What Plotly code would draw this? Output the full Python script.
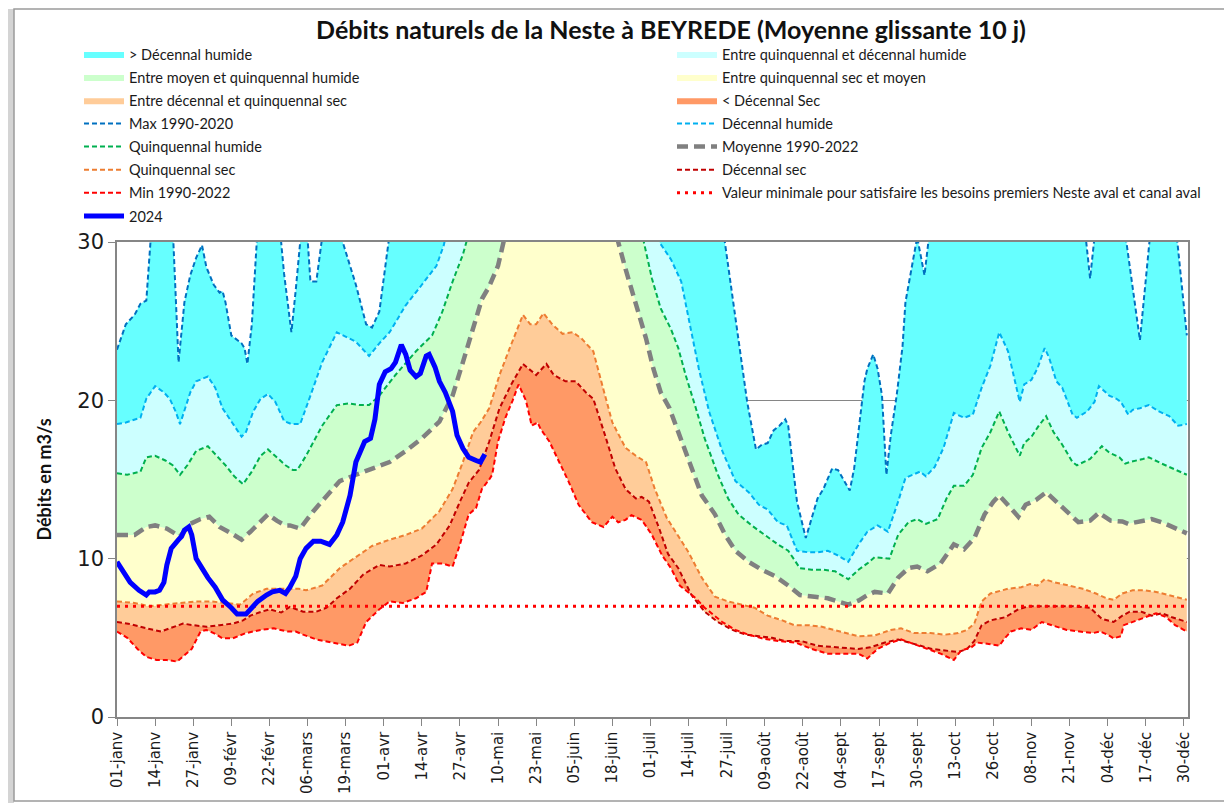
import plotly.graph_objects as go

# ---------------- data (day of year, leap year: 0 = 01-janv) ----------------
tick_days = [0, 13, 26, 39, 52, 65, 78, 91, 104, 117, 130, 143, 156, 169, 182,
             195, 208, 221, 234, 247, 260, 273, 286, 299, 312, 325, 338, 351, 364]
tick_labels = ["01-janv", "14-janv", "27-janv", "09-févr", "22-févr", "06-mars",
               "19-mars", "01-avr", "14-avr", "27-avr", "10-mai", "23-mai",
               "05-juin", "18-juin", "01-juil", "14-juil", "27-juil", "09-août",
               "22-août", "04-sept", "17-sept", "30-sept", "13-oct", "26-oct",
               "08-nov", "21-nov", "04-déc", "17-déc", "30-déc"]

max_days = [0, 3, 6, 8, 10, 12, 15, 19, 21, 23, 25, 27, 29, 30.5, 33, 35, 36, 37,
            39, 41, 42.5, 43.5, 44.5, 46, 48, 52, 55.5, 57, 59.5, 61, 62.5, 64, 66,
            68, 70.5, 74, 77, 81.5, 85, 87, 89.5, 93, 100, 150, 200, 207, 211, 215,
            218, 220, 222, 224, 226, 228, 229, 232, 235, 239, 241, 244, 246, 248,
            250, 251.5, 254, 255, 256, 258, 259.5, 261, 262.5, 264, 266, 268, 269,
            271, 273, 275.5, 277, 285, 290, 310, 328, 330.5, 332, 333.5, 340, 344,
            349, 352.5, 356, 361.5, 365]
max_vals = [23.2, 24.8, 25.4, 26.1, 26.3, 31.5, 34.0, 31.0, 22.4, 26.2, 27.9, 29.0,
            29.8, 28.4, 27.3, 26.8, 26.9, 26.2, 24.1, 23.8, 23.6, 23.3, 22.3, 24.8,
            31.0, 34.0, 31.0, 28.0, 24.3, 27.0, 30.5, 33.0, 27.5, 27.5, 31.0, 33.0,
            30.0, 27.3, 24.8, 24.6, 25.6, 30.5, 36.0, 40.0, 36.0, 30.5, 25.2, 19.9,
            16.9, 17.2, 17.3, 18.1, 18.4, 18.8, 18.4, 13.6, 11.3, 13.8, 14.4, 15.7,
            15.6, 14.9, 14.3, 15.7, 19.5, 21.2, 22.0, 22.9, 22.0, 20.3, 15.3, 17.8,
            20.3, 23.4, 26.2, 28.3, 30.3, 27.9, 30.3, 35.0, 36.0, 35.0, 31.0, 30.3,
            27.7, 30.3, 34.0, 30.5, 23.8, 30.5, 34.0, 30.5, 24.1]

dh_days = [0, 3, 8, 10, 13, 16, 18, 20, 21.5, 22.5, 25, 27, 31, 33.5, 36, 40, 42.5,
           44, 46.5, 49, 51.5, 54, 57, 59.5, 62.5, 66, 70, 75, 81.5, 86, 89.5, 93,
           98.5, 104, 109, 111.5, 114, 130, 170, 183, 185, 189, 192.5, 195, 198.5,
           202, 206.5, 211, 215.5, 219, 222, 225.5, 228.5, 232, 236, 239, 242.5,
           246, 249.5, 253, 256, 259.5, 263, 266.5, 269, 274, 276, 279, 282, 285.5,
           289, 292, 295, 298, 301, 304, 308, 309.5, 312, 314, 316.5, 318, 320.5,
           322.5, 326, 327.5, 331, 333.5, 335, 338.5, 341, 342.5, 345, 346.5, 349,
           352, 355.5, 359, 362, 365]
dh_vals = [18.5, 18.6, 18.9, 20.1, 20.9, 20.5, 20.1, 19.3, 18.5, 19.1, 20.5, 21.2,
           21.5, 20.8, 19.5, 18.4, 17.7, 18.0, 19.3, 20.1, 20.4, 19.9, 18.7, 18.5,
           18.5, 20.3, 22.4, 24.3, 23.7, 22.8, 23.6, 24.3, 26.0, 27.3, 28.5, 29.8,
           32.0, 40.0, 40.0, 32.0, 30.0, 28.9, 27.5, 25.2, 22.0, 19.3, 16.8, 14.9,
           14.2, 13.4, 13.1, 12.3, 12.1, 10.5, 10.4, 10.4, 10.5, 10.2, 9.8, 10.9,
           11.7, 12.1, 11.7, 13.6, 15.1, 15.5, 15.2, 15.8, 17.0, 19.2, 18.9, 19.1,
           20.8, 22.2, 24.3, 23.1, 19.9, 21.0, 21.3, 22.0, 23.3, 22.7, 21.2, 20.8,
           19.1, 18.9, 19.3, 19.9, 20.9, 20.3, 20.1, 19.9, 19.1, 19.4, 19.5, 19.7,
           19.3, 19.0, 18.4, 18.5]

qh_days = [0, 3.5, 8, 10, 13, 16.5, 19, 21.5, 24, 27, 31, 34, 37, 40, 43, 46, 49,
           51.5, 54.5, 57.5, 60, 61.5, 64.5, 70, 75, 79, 83, 86, 89.5, 95, 102,
           107.5, 111, 114.5, 118, 119.5, 125, 170, 179.5, 182.5, 185.5, 189, 191.5,
           194, 197.5, 200.5, 205, 208.5, 212, 216.5, 221, 225.5, 229, 233, 237, 241,
           245, 249.5, 253, 256, 258.5, 263.5, 266.5, 270, 273, 276, 280, 283, 285.5,
           289, 292, 295, 298, 301, 304, 308, 309.5, 312, 314.5, 317, 319.5, 322.5,
           326, 327.5, 332, 334, 336, 338.5, 342, 344, 345.5, 350, 352, 356.5, 360,
           365]
qh_vals = [15.4, 15.3, 15.5, 16.4, 16.5, 16.2, 15.9, 15.3, 15.9, 16.8, 17.1, 16.5,
           15.9, 15.2, 14.7, 15.5, 16.5, 16.9, 16.4, 15.9, 15.6, 15.6, 16.5, 18.4,
           19.7, 19.8, 19.7, 19.7, 20.3, 21.6, 23.1, 24.1, 25.6, 27.5, 29.2, 30.2,
           36.0, 36.0, 30.2, 27.7, 25.8, 24.5, 23.3, 21.6, 19.5, 17.6, 15.3, 13.8,
           12.8, 12.1, 11.5, 10.9, 10.5, 9.4, 9.3, 9.3, 9.2, 8.7, 9.3, 9.7, 10.1,
           10.0, 11.5, 12.3, 12.5, 12.2, 12.5, 13.8, 14.6, 14.6, 15.3, 17.0, 18.0,
           19.3, 18.0, 16.5, 17.3, 17.7, 18.4, 19.0, 18.0, 17.2, 16.1, 15.9, 16.3,
           16.7, 17.1, 16.7, 16.4, 16.0, 16.1, 16.3, 16.4, 16.0, 15.7, 15.3]

moy_days = [0, 6, 10, 13, 17, 21.5, 25, 28.5, 31.5, 35, 39, 42.5, 45.5, 49, 51.5,
            54.5, 57.5, 59, 62.5, 67, 71.5, 76, 81.5, 87, 93, 98.5, 104, 110, 114.5,
            118, 121.5, 124.5, 127, 130, 132, 140, 165, 171, 173.5, 177, 180.5, 183,
            185.5, 188.5, 191.5, 195, 199.5, 204, 207.5, 211, 215.5, 220, 224.5, 229,
            233, 238, 242.5, 246, 249.5, 253, 256, 258.5, 263, 266.5, 270, 273, 276.5,
            281, 285.5, 289, 292.5, 296, 299, 301, 304, 307.5, 310, 313.5, 317, 320.5,
            324, 328, 332, 335, 339, 343, 345, 349, 353, 356.5, 360, 365]
moy_vals = [11.5, 11.5, 12.0, 12.1, 11.9, 11.4, 12.2, 12.5, 12.65, 12.0, 11.6, 11.2,
            11.7, 12.4, 12.8, 12.4, 12.1, 12.1, 11.9, 13.0, 14.0, 14.9, 15.3, 15.7,
            16.1, 16.8, 17.6, 18.65, 20.3, 22.4, 24.5, 26.4, 27.2, 28.5, 30.1, 36.0,
            36.0, 30.0, 28.3, 26.2, 23.9, 22.0, 20.5, 19.5, 18.0, 16.1, 14.0, 12.8,
            11.5, 10.5, 9.8, 9.3, 8.9, 8.3, 7.7, 7.6, 7.5, 7.3, 7.1, 7.35, 7.7, 7.9,
            7.8, 8.8, 9.4, 9.5, 9.2, 9.7, 10.9, 10.6, 11.3, 12.8, 13.6, 14.0, 13.4,
            12.65, 13.4, 13.7, 14.2, 13.6, 13.0, 12.3, 12.4, 12.9, 12.4, 12.35, 12.2,
            12.35, 12.5, 12.3, 12.0, 11.6]

qs_days = [0, 6, 11, 17, 23, 27, 32, 37, 42, 44, 46.5, 51, 56, 62, 64.5, 70, 76,
           81.5, 87, 93, 98.5, 104, 110, 114.5, 118, 121.5, 124, 127, 130.5, 134,
           138.5, 141, 143, 145.5, 148.5, 152, 155.5, 158.5, 162.5, 165.5, 169, 173.5,
           177, 180.5, 183.5, 187.5, 191.5, 195, 199.5, 204, 208.5, 213, 217.5, 222,
           227, 231, 236, 240.5, 245, 249.5, 253, 258.5, 264, 267.5, 272, 277.5,
           282.5, 287, 290, 292.5, 295, 298, 304, 308.5, 311.5, 314, 316.5, 320, 325,
           329.5, 334, 337.5, 340, 343, 346.5, 350.5, 354.5, 359, 365]
qs_vals = [7.3, 7.2, 7.0, 7.1, 7.2, 7.3, 7.3, 7.2, 7.1, 7.4, 7.8, 8.1, 8.1, 8.1, 8.0,
           8.3, 9.4, 10.1, 10.8, 11.2, 11.5, 11.9, 13.0, 14.4, 16.1, 18.0, 18.6, 19.5,
           21.6, 23.3, 25.4, 24.8, 24.8, 25.5, 24.8, 24.2, 24.3, 23.9, 23.1, 21.0,
           18.6, 17.0, 16.5, 16.1, 14.4, 12.6, 11.4, 10.4, 8.8, 7.6, 7.3, 7.1, 6.9,
           6.4, 6.1, 5.8, 5.8, 5.7, 5.5, 5.3, 5.1, 5.15, 5.5, 5.6, 5.3, 5.3, 5.2, 5.3,
           5.5, 5.9, 7.3, 7.8, 8.1, 8.2, 8.4, 8.3, 8.7, 8.5, 8.3, 8.1, 7.8, 7.5, 7.4,
           7.8, 8.0, 8.0, 7.9, 7.7, 7.4]

ds_days = [0, 5, 10, 15, 18, 22.5, 26, 30.5, 35, 39.5, 43, 45.5, 48.5, 52, 56, 59,
           63.5, 68, 71.5, 75, 79.5, 84, 89.5, 93, 98.5, 104, 109, 113.5, 117, 120,
           123.5, 127, 130.5, 134.5, 138.5, 140.5, 143, 146.5, 149, 153, 156.5, 160,
           162.5, 166.5, 170, 173.5, 177, 179, 181.5, 185, 188, 191.5, 196, 200.5,
           205, 210, 214.5, 219, 223.5, 228, 233.5, 239, 245, 250.5, 253, 257, 262,
           266.5, 272, 278, 282.5, 287, 290, 292.5, 295, 298, 303, 307.5, 311, 320,
           326, 332, 336, 340, 343, 345.5, 349.5, 353, 356.5, 360, 365]
ds_vals = [6.0, 5.85, 5.6, 5.4, 5.6, 5.9, 5.8, 5.7, 5.8, 5.9, 6.1, 6.4, 6.6, 6.8,
           6.6, 6.95, 6.65, 6.65, 6.9, 7.5, 8.1, 9.0, 9.6, 9.5, 9.7, 10.2, 10.9, 12.1,
           13.6, 14.8, 15.6, 17.4, 19.5, 21.0, 22.3, 22.0, 21.6, 22.3, 21.6, 21.2,
           21.2, 20.5, 20.1, 17.8, 15.7, 14.4, 13.8, 13.9, 13.6, 11.9, 10.3, 9.4, 7.7,
           6.65, 6.0, 5.5, 5.2, 5.1, 5.0, 4.8, 4.8, 4.5, 4.4, 4.3, 4.3, 4.4, 4.7, 4.9,
           4.6, 4.3, 4.2, 4.1, 4.3, 4.8, 5.8, 6.1, 6.3, 6.8, 7.0, 7.0, 7.0, 6.9, 6.2,
           6.0, 6.4, 6.65, 6.65, 6.4, 6.55, 6.3, 6.0]

min_days = [0, 3.5, 7, 10, 13.5, 17, 20.5, 22.5, 25.5, 28.5, 30.5, 33, 36, 39.5, 44,
            49, 53.5, 58, 61, 63.5, 68, 73.5, 79, 82, 85, 89.5, 93, 97.5, 102, 105.5,
            107.5, 111, 114.5, 117, 120, 122.5, 124.5, 127, 128, 130, 132.5, 135, 137,
            139.5, 141.5, 143.5, 144.5, 147.5, 151, 154, 157.5, 162, 166, 169, 171,
            173.5, 175.5, 179, 182.5, 186, 189, 192, 197.5, 200.5, 206.5, 211, 215.5,
            220, 225.5, 231.5, 237, 242.5, 249.5, 253, 256, 259.5, 264, 267.5, 272,
            276.5, 281, 285.5, 288, 291.5, 293.5, 298, 301, 303, 305, 308.5, 312,
            315.5, 319, 324, 328.5, 333, 335.5, 338, 340, 342.5, 343.5, 346.5, 350,
            354.5, 358, 361, 365]
min_vals = [5.4, 5.0, 4.3, 3.8, 3.6, 3.6, 3.5, 3.8, 4.3, 5.4, 5.5, 5.3, 4.97, 4.97,
            5.3, 5.5, 5.6, 5.4, 5.4, 5.2, 4.9, 4.7, 4.5, 4.7, 6.0, 6.8, 7.3, 7.2, 7.5,
            7.9, 9.7, 9.7, 9.5, 10.9, 12.8, 13.2, 14.4, 15.0, 15.3, 17.4, 18.9, 20.0,
            21.0, 20.0, 18.4, 18.6, 18.2, 17.4, 16.1, 14.9, 13.4, 12.3, 12.0, 12.65,
            12.3, 12.45, 12.75, 12.45, 11.5, 10.2, 9.4, 8.3, 7.5, 6.9, 6.0, 5.5, 5.2,
            4.97, 4.8, 4.7, 4.3, 4.0, 4.0, 4.0, 3.7, 4.3, 4.7, 4.9, 4.6, 4.3, 4.0, 3.6,
            4.2, 4.4, 4.7, 4.6, 4.5, 5.0, 5.4, 5.6, 5.5, 6.0, 5.8, 5.5, 5.4, 5.3, 5.4,
            5.2, 4.97, 5.1, 5.8, 6.0, 6.2, 6.55, 6.3, 5.8, 5.4]

seuil_days = [0, 365]
seuil_vals = [7.0, 7.0]

y2024_days = [0, 2, 4.5, 7.5, 10, 11, 13, 14.5, 16, 17, 18.5, 21, 22, 23, 24.5, 25.5,
              27, 29, 31, 33.5, 36, 39, 41, 44, 46, 48, 51, 53, 55.5, 57.5, 59, 61,
              62.5, 64.5, 67, 69.5, 72.5, 75, 77, 79.5, 81.5, 84.5, 86.5, 88, 89.5,
              91.5, 93.5, 95, 97, 98.5, 100, 102, 103.5, 105.5, 106.5, 108.5, 110,
              112, 114.5, 116, 118, 120, 122.5, 124, 125.5]
y2024_vals = [9.8, 9.2, 8.5, 8.0, 7.7, 7.9, 7.9, 8.0, 8.5, 9.6, 10.65, 11.2, 11.4,
              11.8, 12.0, 11.5, 10.0, 9.4, 8.8, 8.2, 7.4, 6.9, 6.5, 6.5, 6.9, 7.3,
              7.7, 7.9, 8.0, 7.8, 8.2, 8.9, 10.0, 10.65, 11.1, 11.1, 10.9, 11.5, 12.3,
              14.0, 16.1, 17.4, 17.6, 18.8, 21.0, 21.8, 22.0, 22.4, 23.5, 22.9, 21.9,
              21.5, 21.7, 22.8, 22.9, 22.1, 21.2, 20.5, 19.3, 17.8, 16.97, 16.4, 16.2,
              16.1, 16.6]

# ---------------- styles ----------------
C_MAX, C_DH, C_QH, C_MOY = "#0070C0", "#00B0F0", "#00B050", "#808080"
C_QS, C_DS, C_MIN, C_2024 = "#ED7D31", "#C00000", "#FF0000", "#0000FF"
F_SUP_DH, F_QH_DH, F_MOY_QH = "#66FFFF", "#CCFFFF", "#CCFFCC"
F_QS_MOY, F_DS_QS, F_INF_DS = "#FFFFCC", "#FFCC99", "#FF9966"

fig = go.Figure()

# white base under the minimum (hides gridlines as in the original)
fig.add_trace(go.Scatter(x=min_days, y=min_vals, mode="lines", line=dict(width=0),
                         fill="tozeroy", fillcolor="white", showlegend=False,
                         hoverinfo="skip"))

bands = [
    (ds_days, ds_vals, F_INF_DS, "< Décennal Sec", "legend2", 3),
    (qs_days, qs_vals, F_DS_QS, "Entre décennal et quinquennal sec", "legend", 3),
    (moy_days, moy_vals, F_QS_MOY, "Entre quinquennal sec et moyen", "legend2", 2),
    (qh_days, qh_vals, F_MOY_QH, "Entre moyen et quinquennal humide", "legend", 2),
    (dh_days, dh_vals, F_QH_DH, "Entre quinquennal et décennal humide", "legend2", 1),
    (max_days, max_vals, F_SUP_DH, "> Décennal humide", "legend", 1),
]
for d, v, col, name, leg, rank in bands:
    fig.add_trace(go.Scatter(x=d, y=v, mode="lines", line=dict(width=0),
                             fill="tonexty", fillcolor=col, name=name,
                             legend=leg, legendrank=rank, legendgroup=name))

lines = [
    (max_days, max_vals, C_MAX, 2, "5px,3px", "Max 1990-2020", "legend", 4),
    (dh_days, dh_vals, C_DH, 2, "5px,3px", "Décennal humide", "legend2", 4),
    (qh_days, qh_vals, C_QH, 2, "5px,3px", "Quinquennal humide", "legend", 5),
    (moy_days, moy_vals, C_MOY, 4.5, "11px,6px", "Moyenne 1990-2022", "legend2", 5),
    (qs_days, qs_vals, C_QS, 2, "5px,3px", "Quinquennal sec", "legend", 6),
    (ds_days, ds_vals, C_DS, 2, "5px,3px", "Décennal sec", "legend2", 6),
    (min_days, min_vals, C_MIN, 2, "5px,3px", "Min 1990-2022", "legend", 7),
    (seuil_days, seuil_vals, C_MIN, 3, "3px,5px",
     "Valeur minimale pour satisfaire les besoins premiers Neste aval et canal aval",
     "legend2", 7),
]
for d, v, col, w, dash, name, leg, rank in lines:
    fig.add_trace(go.Scatter(x=d, y=v, mode="lines",
                             line=dict(color=col, width=w, dash=dash),
                             name=name, legend=leg, legendrank=rank, legendgroup=name))

fig.add_trace(go.Scatter(x=y2024_days, y=y2024_vals, mode="lines",
                         line=dict(color=C_2024, width=5), name="2024",
                         legend="legend", legendrank=8, legendgroup="2024"))

# ---------------- layout (page has an 8px body margin) ----------------
OFF = 8
W, H = 1232 - OFF, 806 - OFF
ML, MT = 117 - OFF, 242 - OFF
MR = W - (1188 - OFF)
MB = H - (717 - OFF)
pw, ph = W - ML - MR, H - MT - MB


def px(xabs):
    return (xabs - OFF - ML) / pw


def py(yabs):
    return (H - MB - (yabs - OFF)) / ph


legend_font = dict(family="Lato, Liberation Sans, sans-serif", size=14.5, color="#1a1a1a")

fig.update_layout(
    width=W, height=H,
    margin=dict(l=ML, r=MR, t=MT, b=MB),
    paper_bgcolor="white", plot_bgcolor="white",
    title=dict(text="<b>Débits naturels de la Neste à BEYREDE (Moyenne glissante 10 j)</b>",
               xref="container", x=(671 - OFF) / W, xanchor="center",
               yref="container", y=1 - (30 - OFF) / H, yanchor="middle",
               font=dict(family="Lato, Liberation Sans, sans-serif", size=25, color="#111")),
    legend=dict(x=px(79), y=py(38), xanchor="left", yanchor="top",
                bgcolor="rgba(0,0,0,0)", font=legend_font, tracegroupgap=1.3,
                itemwidth=40),
    legend2=dict(x=px(672), y=py(38), xanchor="left", yanchor="top",
                 bgcolor="rgba(0,0,0,0)", font=legend_font, tracegroupgap=1.3,
                 itemwidth=40),
    xaxis=dict(range=[0, 365.4], tickmode="array", tickvals=tick_days,
               ticktext=tick_labels, tickangle=-90, ticks="outside", ticklen=7,
               tickcolor="#868686", showline=True, linecolor="#868686", linewidth=1.5,
               mirror=True, showgrid=False, zeroline=False,
               tickfont=dict(family="DejaVu Sans, sans-serif", size=15, color="#1a1a1a")),
    yaxis=dict(range=[0, 30], tickvals=[0, 10, 20, 30], ticks="outside", ticklen=7,
               tickcolor="#868686", showline=True, linecolor="#868686", linewidth=1.5,
               mirror=True, showgrid=True, gridcolor="#868686", gridwidth=1,
               zeroline=False,
               tickfont=dict(family="DejaVu Sans, sans-serif", size=21, color="#1a1a1a"),
               title=dict(text="<b>Débits en m3/s</b>", standoff=21,
                          font=dict(family="Lato, Liberation Sans, sans-serif", size=18,
                                    color="#111"))),
    shapes=[
        dict(type="rect", xref="paper", yref="paper", x0=px(8), x1=px(14),
             y0=py(803), y1=py(9), line=dict(width=0), fillcolor="#d4d4d4", layer="below"),
        dict(type="rect", xref="paper", yref="paper", x0=px(14), x1=px(1227),
             y0=py(801), y1=py(9), line=dict(width=1.5, color="#9a9a9a"),
             fillcolor="rgba(0,0,0,0)", layer="below"),
    ],
)

fig.write_html("out.html")
